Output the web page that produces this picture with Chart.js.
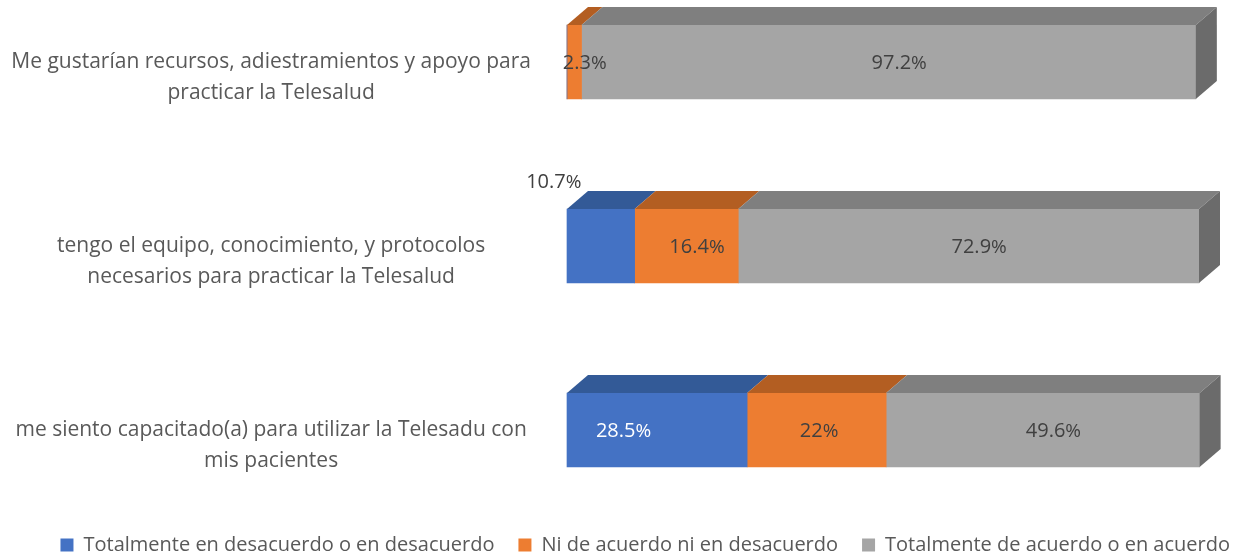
<!DOCTYPE html>
<html>
<head>
<meta charset="utf-8">
<script src="https://cdn.jsdelivr.net/npm/chart.js@4.4.1/dist/chart.umd.min.js"></script>
<style>
  html, body { margin: 0; padding: 0; background: #fff; }
  #wrap { width: 1235px; height: 557px; }
</style>
</head>
<body>
<div id="wrap"><canvas id="chart" width="1235" height="557"></canvas></div>
<script>
'use strict';

// categories (first line sits on the bar centre, like the original)
var categories = [
  ['', 'Me gustarían recursos, adiestramientos y apoyo para', 'practicar la Telesalud'],
  ['', 'tengo el equipo, conocimiento, y protocolos', 'necesarios para practicar la Telesalud'],
  ['', 'me siento capacitado(a) para utilizar la Telesadu con', 'mis pacientes']
];
var seriesNames = [
  'Totalmente en desacuerdo o en desacuerdo',
  'Ni de acuerdo ni en desacuerdo',
  'Totalmente de acuerdo o en acuerdo'
];
var desacuerdo = [0, 10.7, 28.5];
var neutral = [2.3, 16.4, 22];
var acuerdo = [97.2, 72.9, 49.6];

var frontColors = ['#4472C4', '#ED7D31', '#A5A5A5'];
var topColors = ['#335A97', '#B35E22', '#7F7F7F'];
var sideColor = '#6B6B6B';
var labelColors = ['#FFFFFF', '#404040', '#404040'];
var depthX = 21;
var depthY = 18;
var fontName = '"Open Sans", Lato, sans-serif';

// labels that Excel placed away from the middle of the 3D bar: 'dataset-index': [dx, dy]
var labelMoves = {
  '0-1': [-47 - depthX / 2, -65],
  '0-2': [-44, 0],
  '1-2': [-8, 0]
};

// draw the top and right faces so the bars look like Excel 3D bars
var depthPlugin = {
  id: 'depth',
  afterDatasetsDraw: function(chart) {
    var ctx = chart.ctx;
    var count = chart.data.datasets.length;
    ctx.save();
    for (var d = 0; d < count; d++) {
      var meta = chart.getDatasetMeta(d);
      meta.data.forEach(function(bar, i) {
        var value = chart.data.datasets[d].data[i];
        if (!value) return;
        var top = bar.y - bar.height / 2;
        var bottom = bar.y + bar.height / 2;
        var left = Math.min(bar.base, bar.x);
        var right = Math.max(bar.base, bar.x);
        ctx.fillStyle = topColors[d];
        ctx.beginPath();
        ctx.moveTo(left, top);
        ctx.lineTo(right, top);
        ctx.lineTo(right + depthX, top - depthY);
        ctx.lineTo(left + depthX, top - depthY);
        ctx.closePath();
        ctx.fill();
        if (d === count - 1) {
          ctx.fillStyle = sideColor;
          ctx.beginPath();
          ctx.moveTo(right, top);
          ctx.lineTo(right + depthX, top - depthY);
          ctx.lineTo(right + depthX, bottom - depthY);
          ctx.lineTo(right, bottom);
          ctx.closePath();
          ctx.fill();
        }
      });
    }
    ctx.restore();
  },
  afterDraw: function(chart) {
    var ctx = chart.ctx;
    ctx.save();
    ctx.textBaseline = 'middle';
    chart.data.datasets.forEach(function(ds, d) {
      var meta = chart.getDatasetMeta(d);
      meta.data.forEach(function(bar, i) {
        var value = ds.data[i];
        if (!value) return;
        var num = String(value);
        ctx.font = '20px ' + fontName;
        var wNum = ctx.measureText(num).width;
        ctx.font = '19px ' + fontName;
        var wPct = ctx.measureText('%').width;
        var cx = (bar.x + bar.base) / 2 + depthX / 2;
        var cy = bar.y + 1;
        var color = labelColors[d];
        var move = labelMoves[d + '-' + i];
        if (move) {
          cx += move[0];
          cy += move[1];
          if (move[1] !== 0) color = '#404040';
        }
        var x0 = cx - (wNum + wPct) / 2;
        ctx.fillStyle = color;
        ctx.textAlign = 'left';
        ctx.font = '20px ' + fontName;
        ctx.fillText(num, x0, cy);
        ctx.font = '19px ' + fontName;
        ctx.fillText('%', x0 + wNum, cy + 1);
      });
    });
    ctx.restore();
  }
};

var datasets = [desacuerdo, neutral, acuerdo].map(function(values, d) {
  return {
    label: seriesNames[d],
    data: values,
    backgroundColor: frontColors[d],
    borderWidth: 0,
    barThickness: 74,
    clip: false
  };
});

var chart = new Chart(document.getElementById('chart').getContext('2d'), {
  type: 'bar',
  data: { labels: categories, datasets: datasets },
  plugins: [depthPlugin],
  options: {
    indexAxis: 'y',
    responsive: false,
    animation: false,
    devicePixelRatio: 1,
    layout: { autoPadding: false, padding: { top: 62, left: 0, right: -19, bottom: 0 } },
    scales: {
      x: {
        stacked: true,
        min: 0,
        max: 100,
        grid: { display: false },
        border: { display: false },
        ticks: { display: false },
        afterFit: function(axis) { axis.height = 81; }
      },
      y: {
        stacked: true,
        offset: false,
        grid: { display: false, drawTicks: false },
        border: { display: false },
        ticks: {
          autoSkip: false,
          crossAlign: 'center',
          padding: 36,
          color: '#595959',
          font: { family: fontName, size: 21, lineHeight: 1.476 }
        },
        afterFit: function(axis) {
          axis.width = 567;
          // let the chart area start where the first bar centre is
          axis.paddingTop = 0;
          axis.paddingBottom = 0;
        }
      },
      // empty axis that keeps room on the right for the 3D side face
      yRight: {
        type: 'linear',
        position: 'right',
        grid: { display: false },
        border: { display: false },
        ticks: { display: false },
        afterFit: function(axis) { axis.width = 1254 - 1199; }
      }
    },
    plugins: {
      tooltip: { enabled: false },
      legend: {
        position: 'bottom',
        align: 'end',
        maxHeight: 46,
        labels: {
          boxWidth: 13,
          boxHeight: 13,
          padding: 24,
          color: '#595959',
          font: { family: fontName, size: 20 }
        }
      }
    }
  }
});
</script>
</body>
</html>
